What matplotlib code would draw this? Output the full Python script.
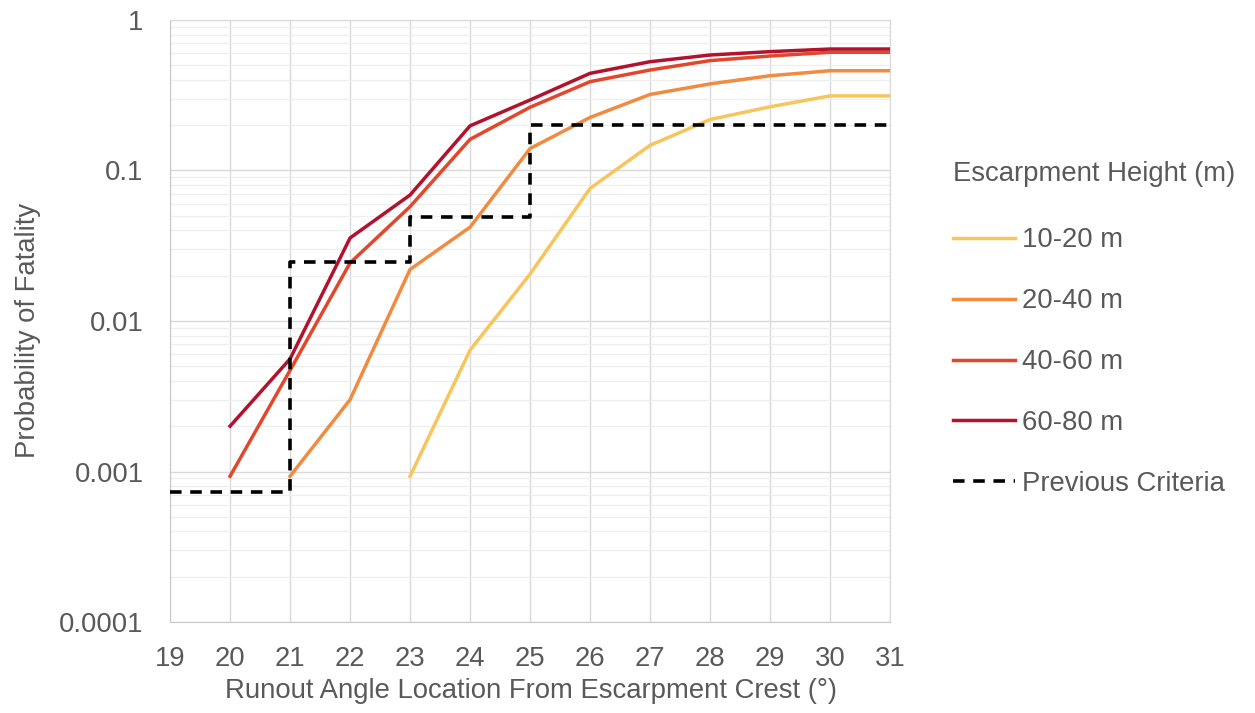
import matplotlib
matplotlib.use("Agg")
import matplotlib.pyplot as plt
from matplotlib.ticker import FixedLocator, NullFormatter, LogLocator

plt.rcParams['font.family'] = ['Liberation Sans', 'DejaVu Sans']

# Runout angle (degrees) and probability of fatality per escarpment height band
angles = [19, 20, 21, 22, 23, 24, 25, 26, 27, 28, 29, 30, 31]

h10_20_x = [23, 24, 25, 26, 27, 28, 29, 30, 31]
h10_20 = [0.00093, 0.0064, 0.0205, 0.076, 0.147, 0.218, 0.265, 0.313, 0.313]

h20_40_x = [21, 22, 23, 24, 25, 26, 27, 28, 29, 30, 31]
h20_40 = [0.00093, 0.0030, 0.022, 0.042, 0.140, 0.225, 0.320, 0.376, 0.426, 0.460, 0.460]

h40_60_x = [20, 21, 22, 23, 24, 25, 26, 27, 28, 29, 30, 31]
h40_60 = [0.00093, 0.0047, 0.0243, 0.0575, 0.161, 0.263, 0.389, 0.465, 0.537, 0.576, 0.610, 0.610]

h60_80_x = [20, 21, 22, 23, 24, 25, 26, 27, 28, 29, 30, 31]
h60_80 = [0.0020, 0.0056, 0.0356, 0.0687, 0.198, 0.294, 0.442, 0.528, 0.585, 0.616, 0.641, 0.641]

# Previous step criteria (value holds until the next angle)
prev_x = [19, 21, 23, 25, 31]
prev_y = [0.00073, 0.0245, 0.049, 0.2, 0.2]

series_labels = ["10-20 m", "20-40 m", "40-60 m", "60-80 m", "Previous Criteria"]
colors = ["#F8C45C", "#F08B3F", "#E2472B", "#B3122D"]
text_color = "#595959"
fs = 19.8

fig = plt.figure(figsize=(12.55, 7.13), dpi=100)
ax = fig.add_axes([0.1355, 0.1276, 0.5737, 0.8444])

lw = 2.5
ax.plot(h10_20_x, h10_20, color=colors[0], lw=lw, label=series_labels[0], zorder=3)
ax.plot(h20_40_x, h20_40, color=colors[1], lw=lw, label=series_labels[1], zorder=3)
ax.plot(h40_60_x, h40_60, color=colors[2], lw=lw, label=series_labels[2], zorder=3)
ax.plot(h60_80_x, h60_80, color=colors[3], lw=lw, label=series_labels[3], zorder=3)
ax.plot(prev_x, prev_y, color="black", lw=2.6, ls=(0, (3.2, 2.4)),
        drawstyle="steps-post", label=series_labels[4], zorder=4)

ax.set_yscale("log")
ax.set_xlim(19, 31)
ax.set_ylim(0.0001, 1)
ax.set_xticks(angles)
ax.set_xticklabels([str(a) for a in angles])
ax.yaxis.set_major_locator(FixedLocator([0.0001, 0.001, 0.01, 0.1, 1]))
ax.set_yticklabels(["0.0001", "0.001", "0.01", "0.1", "1"])
ax.yaxis.set_minor_locator(LogLocator(base=10, subs=range(2, 10), numticks=20))
ax.yaxis.set_minor_formatter(NullFormatter())

ax.grid(True, which="major", axis="both", color="#d9d9d9", lw=1.0, zorder=0)
ax.grid(True, which="minor", axis="y", color="#eeeeee", lw=0.9, zorder=0)
ax.set_axisbelow(True)

ax.tick_params(axis="both", which="both", length=0, labelsize=fs, colors=text_color)
ax.tick_params(axis="x", pad=17)
ax.tick_params(axis="y", pad=19)
for side in ["left", "bottom"]:
    ax.spines[side].set_color("#c8c8c8")
for side in ["top", "right"]:
    ax.spines[side].set_color("#d9d9d9")

ax.set_xlabel("Runout Angle Location From Escarpment Crest (°)", fontsize=fs,
              color=text_color)
ax.set_ylabel("Probability of Fatality", fontsize=fs, color=text_color)
ax.xaxis.set_label_coords(0.502, -0.093)
ax.yaxis.set_label_coords(-0.179, 0.485)

leg = ax.legend(loc="upper left", bbox_to_anchor=(1.072, 0.784), frameon=False,
                title="Escarpment Height (m)", fontsize=fs, title_fontsize=fs,
                handlelength=2.25, handletextpad=0.25, labelspacing=1.27,
                borderaxespad=0, alignment="left")
leg.get_title().set_color(text_color)
leg._legend_box.sep = 29
for t in leg.get_texts():
    t.set_color(text_color)

fig.savefig("out.png", dpi=100, facecolor="white")
